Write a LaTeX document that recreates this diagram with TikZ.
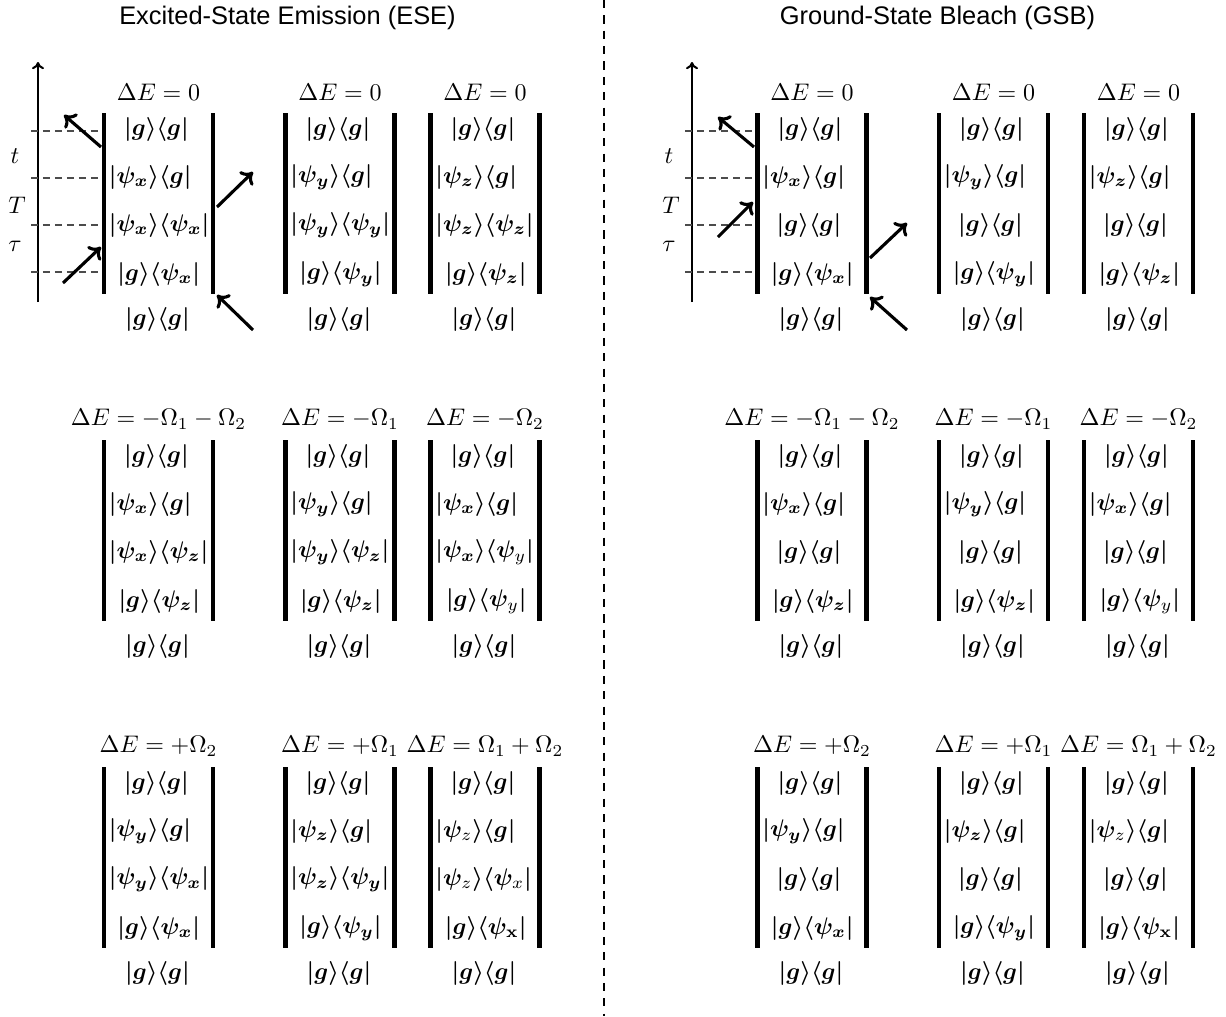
\documentclass[tikz,border=0pt]{standalone}
\usepackage{amsmath}
\usepackage{bm}
\usepackage[no-math]{fontspec}
\newfontfamily\headfont{Liberation Sans}
\usetikzlibrary{arrows.meta}

% density-matrix elements |a><b| with bold delimiters
\newcommand\kb[2]{\bm{|}#1\bm{\rangle\langle}#2\bm{|}}
\newcommand\G{\bm{g}}
\newcommand\bpx{\bm{\psi_x}}
\newcommand\bpy{\bm{\psi_y}}
\newcommand\bpz{\bm{\psi_z}}
% bold psi with a plain subscript
\newcommand\hpx{\bm{\psi}_x}
\newcommand\hpy{\bm{\psi}_y}
\newcommand\hpz{\bm{\psi}_z}

\tikzset{
  side/.style={line width=1.7pt},
  pulse/.style={line width=1.3pt,-{To[length=4.5pt,width=8pt]}},
  elabel/.style={inner sep=0pt,font=\fontsize{10}{12}\selectfont},
  elem/.style={inner sep=0pt,font=\fontsize{10}{12}\selectfont},
  head/.style={inner sep=0pt,font=\headfont\fontsize{10.6}{13}\selectfont},
  timeaxis/.style={line width=0.85pt,-{To[length=3pt,width=5pt]}},
  guide/.style={line width=0.5pt,black!70,dash pattern=on 3pt off 2pt},
  divider/.style={line width=1.2pt,dash pattern=on 3.4pt off 3pt}
}

% one double-sided diagram:
% #1 name, #2 centre x, #3 top of the sides, #4 energy label,
% #5 second element, #6 third element, #7 anchor of the third element, #8 fourth element
\newcommand\fdiag[8]{%
  \coordinate (#1-lt) at (#2-54.5,#3);
  \coordinate (#1-lb) at (#2-54.5,#3+181);
  \coordinate (#1-rt) at (#2+54.5,#3);
  \coordinate (#1-rb) at (#2+54.5,#3+181);
  \draw[side] (#1-lt) -- (#1-lb);
  \draw[side] (#1-rt) -- (#1-rb);
  \node[elabel] (#1-de) at (#2,#3-21) {$#4$};
  \node[elem] (#1-a) at (#2-2,#3+16) {$\kb{\G}{\G}$};
  \node[elem,anchor=west] (#1-b) at (#2-50,#3+64) {$#5$};
  \ifx#7w
    \node[elem,anchor=west] (#1-c) at (#2-50,#3+112) {$#6$};
  \else
    \node[elem] (#1-c) at (#2-3,#3+112) {$#6$};
  \fi
  \node[elem,anchor=east] (#1-d) at (#2+42,#3+161) {$#8$};
  \node[elem] (#1-e) at (#2-1,#3+206) {$\kb{\G}{\G}$};
}

% time axis with the three delays
\newcommand\taxis[2]{% #1 name, #2 x of the axis
  \coordinate (#1-bot) at (#2,302);
  \coordinate (#1-top) at (#2,62);
  \draw[timeaxis] (#1-bot) -- (#1-top);
  \foreach \k/\yy in {1/131,2/178,3/225,4/272}{
    \coordinate (#1-g\k a) at (#2-7,\yy);
    \coordinate (#1-g\k b) at (#2+64,\yy);
    \draw[guide] (#1-g\k a) -- (#1-g\k b);
  }
  \node[elabel] (#1-t) at (#2-23,156) {$t$};
  \node[elabel] (#1-T) at (#2-21,205) {$T$};
  \node[elabel] (#1-tau) at (#2-23,246) {$\tau$};
}

\begin{document}
\begin{tikzpicture}[x=0.4167pt,y=-0.4167pt]
\useasboundingbox (0,0) rectangle (1226,1016);

% separator and titles
\coordinate (sep-top) at (604,0);
\coordinate (sep-bot) at (604,1016);
\draw[divider] (sep-top) -- (sep-bot);
\node[head] (ese) at (287.5,18) {Excited-State Emission (ESE)};
\node[head] (gsb) at (937.5,18) {Ground-State Bleach (GSB)};

% ---------------- ESE ----------------
\taxis{ea}{38}
\fdiag{e11}{158.5}{113}{\Delta E = 0}{\kb{\bpx}{\G}}{\kb{\bpx}{\bpx}}{w}{\kb{\G}{\bpx}}
\fdiag{e12}{340}{113}{\Delta E = 0}{\kb{\bpy}{\G}}{\kb{\bpy}{\bpy}}{w}{\kb{\G}{\bpy}}
\fdiag{e13}{485}{113}{\Delta E = 0}{\kb{\bpz}{\G}}{\kb{\bpz}{\bpz}}{w}{\kb{\G}{\bpz}}

\fdiag{e21}{158.5}{440}{\Delta E = -\Omega_1 - \Omega_2}{\kb{\bpx}{\G}}{\kb{\bpx}{\bpz}}{w}{\kb{\G}{\bpz}}
\fdiag{e22}{340}{440}{\Delta E = -\Omega_1}{\kb{\bpy}{\G}}{\kb{\bpy}{\bpz}}{w}{\kb{\G}{\bpz}}
\fdiag{e23}{485}{440}{\Delta E = -\Omega_2}{\kb{\bpx}{\G}}{\kb{\bpx}{\hpy}}{w}{\kb{\G}{\hpy}}

\fdiag{e31}{158.5}{767}{\Delta E = +\Omega_2}{\kb{\bpy}{\G}}{\kb{\bpy}{\bpx}}{w}{\kb{\G}{\bpx}}
\fdiag{e32}{340}{767}{\Delta E = +\Omega_1}{\kb{\bpz}{\G}}{\kb{\bpz}{\bpy}}{w}{\kb{\G}{\bpy}}
\fdiag{e33}{485}{767}{\Delta E = \Omega_1 + \Omega_2}{\kb{\hpz}{\G}}{\kb{\hpz}{\hpx}}{w}{\kb{\G}{\bm{\psi}_{\mathbf{x}}}}

% field interactions, ESE
\coordinate (ep1s) at (63,283);  \coordinate (ep1e) at (101,247);
\coordinate (ep2s) at (101,147); \coordinate (ep2e) at (64,115);
\coordinate (ep3s) at (217,207); \coordinate (ep3e) at (253,172);
\coordinate (ep4s) at (253,330); \coordinate (ep4e) at (217,295);
\draw[pulse] (ep1s) -- (ep1e);
\draw[pulse] (ep2s) -- (ep2e);
\draw[pulse] (ep3s) -- (ep3e);
\draw[pulse] (ep4s) -- (ep4e);

% ---------------- GSB ----------------
\taxis{ga}{692}
\fdiag{g11}{812}{113}{\Delta E = 0}{\kb{\bpx}{\G}}{\kb{\G}{\G}}{c}{\kb{\G}{\bpx}}
\fdiag{g12}{993.5}{113}{\Delta E = 0}{\kb{\bpy}{\G}}{\kb{\G}{\G}}{c}{\kb{\G}{\bpy}}
\fdiag{g13}{1138.5}{113}{\Delta E = 0}{\kb{\bpz}{\G}}{\kb{\G}{\G}}{c}{\kb{\G}{\bpz}}

\fdiag{g21}{812}{440}{\Delta E = -\Omega_1 - \Omega_2}{\kb{\bpx}{\G}}{\kb{\G}{\G}}{c}{\kb{\G}{\bpz}}
\fdiag{g22}{993.5}{440}{\Delta E = -\Omega_1}{\kb{\bpy}{\G}}{\kb{\G}{\G}}{c}{\kb{\G}{\bpz}}
\fdiag{g23}{1138.5}{440}{\Delta E = -\Omega_2}{\kb{\bpx}{\G}}{\kb{\G}{\G}}{c}{\kb{\G}{\hpy}}

\fdiag{g31}{812}{767}{\Delta E = +\Omega_2}{\kb{\bpy}{\G}}{\kb{\G}{\G}}{c}{\kb{\G}{\bpx}}
\fdiag{g32}{993.5}{767}{\Delta E = +\Omega_1}{\kb{\bpz}{\G}}{\kb{\G}{\G}}{c}{\kb{\G}{\bpy}}
\fdiag{g33}{1138.5}{767}{\Delta E = \Omega_1 + \Omega_2}{\kb{\hpz}{\G}}{\kb{\G}{\G}}{c}{\kb{\G}{\bm{\psi}_{\mathbf{x}}}}

% field interactions, GSB
\coordinate (gp1s) at (754,147); \coordinate (gp1e) at (718,117);
\coordinate (gp2s) at (718,237); \coordinate (gp2e) at (753,202);
\coordinate (gp3s) at (870,258); \coordinate (gp3e) at (907,223);
\coordinate (gp4s) at (907,330); \coordinate (gp4e) at (870,297);
\draw[pulse] (gp1s) -- (gp1e);
\draw[pulse] (gp2s) -- (gp2e);
\draw[pulse] (gp3s) -- (gp3e);
\draw[pulse] (gp4s) -- (gp4e);
\end{tikzpicture}
\end{document}
